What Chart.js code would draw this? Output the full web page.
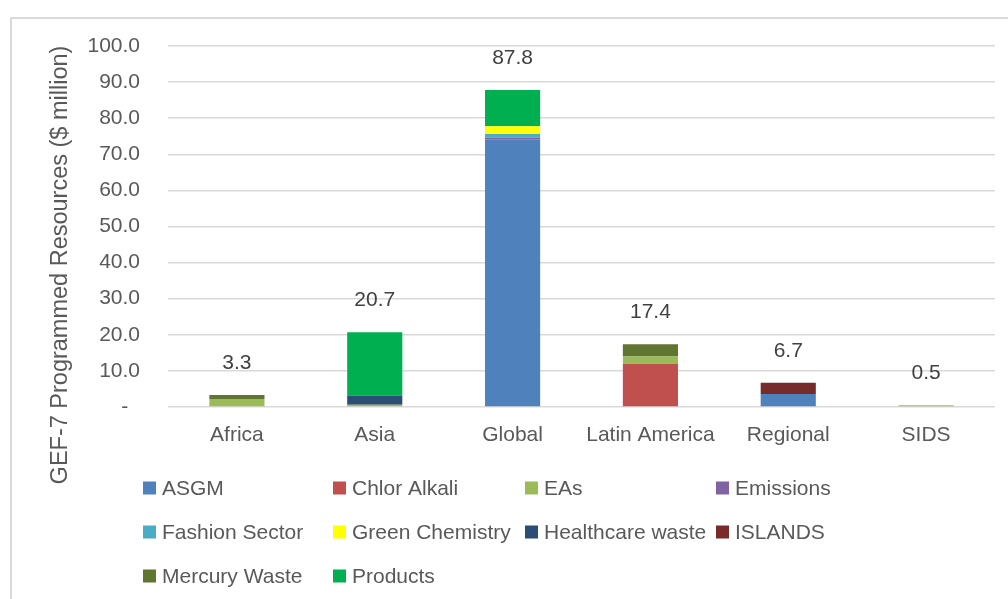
<!DOCTYPE html>
<html>
<head>
<meta charset="utf-8">
<script src="https://cdn.jsdelivr.net/npm/chart.js@4.4.1/dist/chart.umd.min.js"></script>
<style>
html,body{margin:0;padding:0;background:#fff;}
#wrap{width:1008px;height:599px;position:relative;}
</style>
</head>
<body>
<div id="wrap"><canvas id="c" width="1008" height="599"></canvas></div>
<script>
const categories = ['Africa', 'Asia', 'Global', 'Latin America', 'Regional', 'SIDS'];
const seriesNames = ['ASGM', 'Chlor Alkali', 'EAs', 'Emissions', 'Fashion Sector', 'Green Chemistry', 'Healthcare waste', 'ISLANDS', 'Mercury Waste', 'Products'];
const asgm           = [0,   0,    74.0, 0,    3.6, 0];
const chlorAlkali    = [0,   0,    0,    12.0, 0,   0];
const eas            = [2.2, 0.6,  0,    2.0,  0,   0.5];
const emissions      = [0,   0,    0.6,  0,    0,   0];
const fashionSector  = [0,   0,    1.0,  0,    0,   0];
const greenChemistry = [0,   0,    2.2,  0,    0,   0];
const healthcare     = [0,   2.6,  0,    0,    0,   0];
const islands        = [0,   0,    0,    0,    3.1, 0];
const mercuryWaste   = [1.1, 0,    0,    3.4,  0,   0];
const products       = [0,   17.5, 10.0, 0,    0,   0];
const yTicks = [0, 10, 20, 30, 40, 50, 60, 70, 80, 90, 100];
const yTitle = 'GEF-7 Programmed Resources ($ million)';

const seriesValues = [asgm, chlorAlkali, eas, emissions, fashionSector, greenChemistry, healthcare, islands, mercuryWaste, products];
const colors = ['#4F81BD', '#C0504D', '#9BBB59', '#8064A2', '#4BACC6', '#FFFF00', '#2C4D75', '#772C2A', '#5F7530', '#00B050'];

const FONT = "'Liberation Sans', Arial, sans-serif";

const datasets = seriesNames.map((n, i) => ({
  label: n,
  data: seriesValues[i],
  backgroundColor: colors[i],
  borderWidth: 0,
  categoryPercentage: 1,
  barPercentage: 0.4
}));

const decor = {
  id: 'decor',
  beforeDraw(chart) {
    const ctx = chart.ctx;
    ctx.save();
    ctx.strokeStyle = '#d9d9d9';
    ctx.lineWidth = 2;
    ctx.beginPath();
    ctx.moveTo(11, 600);
    ctx.lineTo(11, 18);
    ctx.lineTo(1010, 18);
    ctx.stroke();
    ctx.restore();
  },
  afterDraw(chart) {
    const ctx = chart.ctx;
    const y = chart.scales.y;
    ctx.save();
    // totals
    ctx.font = '21px ' + FONT;
    ctx.fillStyle = '#404040';
    ctx.textAlign = 'center';
    ctx.textBaseline = 'middle';
    const meta = chart.getDatasetMeta(0);
    categories.forEach((c, i) => {
      let t = 0;
      seriesValues.forEach(s => t += s[i]);
      const x = meta.data[i].x;
      ctx.fillText(t.toFixed(1), x, y.getPixelForValue(t) - 32);
    });
    // y title
    ctx.save();
    ctx.translate(61, 265);
    ctx.rotate(-Math.PI / 2);
    ctx.fillStyle = '#595959';
    ctx.font = '23.5px ' + FONT;
    ctx.fillText(yTitle, 0, 0);
    ctx.restore();
    // legend
    const colX = [143, 333, 525, 716];
    const rowY = [488, 532, 576];
    ctx.font = '21px ' + FONT;
    ctx.textAlign = 'left';
    ctx.textBaseline = 'middle';
    chart.data.datasets.forEach((d, i) => {
      const cx = colX[i % 4], cy = rowY[Math.floor(i / 4)];
      ctx.fillStyle = d.backgroundColor;
      ctx.fillRect(cx, cy - 6.5, 13, 13);
      ctx.fillStyle = '#595959';
      ctx.fillText(d.label, cx + 19, cy + 1);
    });
    ctx.restore();
  }
};

new Chart(document.getElementById('c'), {
  type: 'bar',
  data: { labels: categories, datasets },
  options: {
    responsive: false,
    animation: false,
    layout: { padding: { left: 0, right: 13, top: 46, bottom: 0 } },
    plugins: { legend: { display: false }, tooltip: { enabled: false } },
    scales: {
      x: {
        stacked: true,
        grid: { display: false, drawTicks: false },
        border: { display: false },
        ticks: { color: '#595959', font: { family: FONT, size: 21 }, padding: 16, maxRotation: 0 },
        afterFit(s) { s.height = 192; }
      },
      y: {
        stacked: true,
        min: 0, max: 100,
        afterBuildTicks(s) { s.ticks = yTicks.map(v => ({ value: v })); },
        grid: { color: '#d9d9d9', lineWidth: 1.5, drawTicks: false },
        border: { display: false },
        ticks: {
          color: '#595959', font: { family: FONT, size: 21 }, padding: 28,
          callback: v => v === 0 ? '-  ' : v.toFixed(1)
        },
        afterFit(s) { s.width = 168; }
      }
    }
  },
  plugins: [decor]
});
</script>
</body>
</html>
